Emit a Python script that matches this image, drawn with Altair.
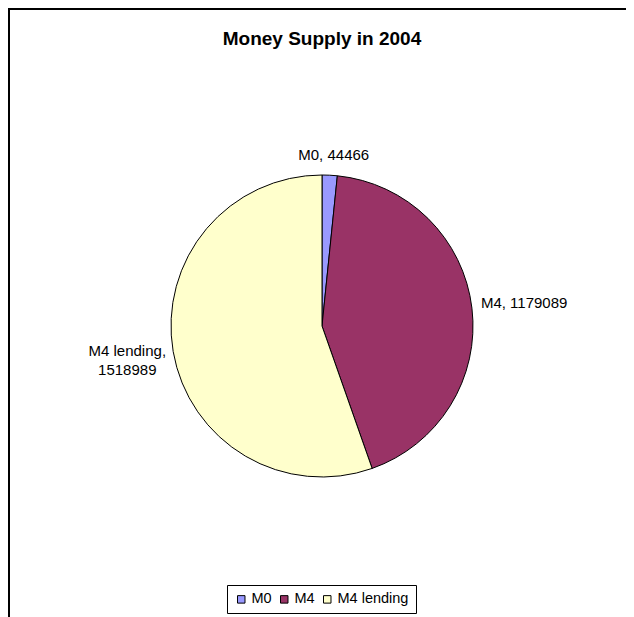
import altair as alt
import pandas as pd

categories = ["M0", "M4", "M4 lending"]
values = [44466, 1179089, 1518989]
colors = ["#9999FF", "#993366", "#FFFFCC"]
title_text = "Money Supply in 2004"

labels = [f"{c}, {v}" for c, v in zip(categories, values)]
labels[2] = f"{categories[2]},\n{values[2]}"

df = pd.DataFrame({"category": categories, "value": values, "label": labels,
                   "idx": list(range(len(categories)))})

FONT = "Liberation Sans"
CX, CY, R = 314, 318, 151

base = alt.Chart(df).encode(
    theta=alt.Theta("value:Q", stack=True),
    order=alt.Order("idx:Q"),
    x=alt.value(CX),
    y=alt.value(CY),
)

pie = base.mark_arc(radius=R, stroke="black", strokeWidth=1).encode(
    color=alt.Color(
        "category:N",
        scale=alt.Scale(domain=categories, range=colors),
        legend=alt.Legend(
            orient="none", legendX=219, legendY=577, direction="horizontal",
            title=None, strokeColor="black", fillColor="white", padding=7,
            symbolType="square", symbolSize=56, symbolStrokeColor="black",
            symbolStrokeWidth=1, symbolOpacity=1, labelFont=FONT,
            labelFontSize=14.5, labelColor="black", columnPadding=5,
            labelOffset=3,
        ),
    )
)


def label_layer(cat, radius, align, dx, dy):
    return base.mark_text(
        radius=radius, align=align, baseline="middle", dx=dx, dy=dy,
        font=FONT, fontSize=15, color="black", lineBreak="\n", lineHeight=19,
    ).encode(
        text=alt.condition(alt.datum.category == cat, "label:N", alt.value(""))
    )


lab0 = label_layer("M0", 171, "center", 3, 0)
lab1 = label_layer("M4", 160, "left", 0, -4)
lab2 = label_layer("M4 lending", 160, "center", -37, -2)

title = alt.Chart(pd.DataFrame({"t": [title_text]})).mark_text(
    font=FONT, fontSize=19, fontWeight="bold", color="black", baseline="middle"
).encode(text="t:N", x=alt.value(314), y=alt.value(31))

frame_top = alt.Chart(pd.DataFrame({"a": [0]})).mark_rule(
    color="black", strokeWidth=2
).encode(x=alt.value(0), x2=alt.value(640), y=alt.value(1))
frame_left = alt.Chart(pd.DataFrame({"a": [0]})).mark_rule(
    color="black", strokeWidth=2
).encode(x=alt.value(1), y=alt.value(0), y2=alt.value(640))

chart = alt.layer(frame_top, frame_left, pie, lab0, lab1, lab2, title).properties(
    width=618, height=609, padding=0, autosize=alt.AutoSizeParams(type="none"),
    background="white",
).configure_view(stroke=None)

chart.save("out.html", embed_options={"renderer": "svg", "actions": False})
